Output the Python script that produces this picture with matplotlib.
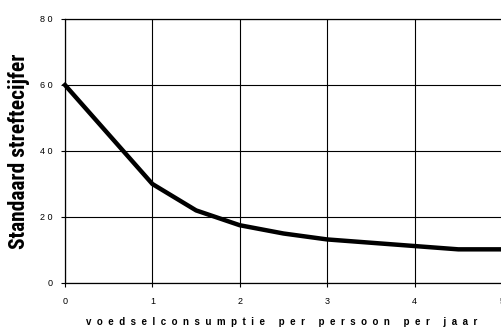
import matplotlib
matplotlib.use("Agg")
import matplotlib.pyplot as plt

x_vals = [0, 1, 1.5, 2, 2.5, 3, 3.5, 4, 4.5, 5]
y_vals = [60, 30, 22, 17.5, 15, 13.2, 12.2, 11.2, 10.2, 10.2]
x_ticks = [0, 1, 2, 3, 4, 5]
x_ticklabels = ["0", "1", "2", "3", "4", "5"]
y_ticks = [0, 20, 40, 60, 80]
y_ticklabels = ["0", "2 0", "4 0", "6 0", "8 0"]
x_label_words = ["voedselconsumptie", "per", "persoon", "per", "jaar"]
y_label = "Standaard streftecijfer"

x_label = "     ".join("  ".join(w) for w in x_label_words)

fig = plt.figure(figsize=(5.02, 3.30), dpi=100)
ax = fig.add_axes([65/502, 1-283/330, 1-65/502, (283-19)/330])
ax.plot(x_vals, y_vals, color="black", lw=3.2, solid_joinstyle="miter", clip_on=False, zorder=3)
ax.set_xlim(0, 5)
ax.set_ylim(0, 80)
ax.set_xticks(x_ticks)
ax.set_xticklabels(x_ticklabels, family="Liberation Sans", fontsize=6.5)
ax.set_yticks(y_ticks)
ax.set_yticklabels(y_ticklabels, family="Liberation Sans", fontsize=6.5)
ax.grid(True, color="black", lw=0.8)
ax.tick_params(length=3, width=0.8, color="black")
ax.tick_params(axis="y", pad=6)
ax.tick_params(axis="x", pad=7)
ax.spines["right"].set_visible(False)
for s in ["left", "bottom", "top"]:
    ax.spines[s].set_linewidth(0.9)
ax.set_xlabel(x_label, family="Liberation Sans", fontsize=7, fontweight="bold")
ax.xaxis.set_label_coords(0.495, -0.13)
ax.set_ylabel(y_label, family=["Roboto Condensed", "DejaVu Sans"], fontsize=15.5,
              fontweight="bold")
ax.yaxis.set_label_coords(-0.08, 0.5)
fig.savefig("out.png", dpi=100)
